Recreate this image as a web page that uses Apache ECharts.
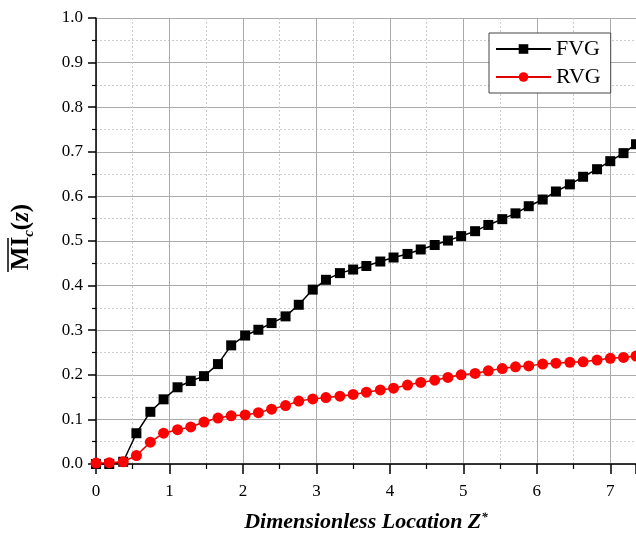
<!DOCTYPE html>
<html>
<head>
<meta charset="utf-8">
<script src="https://cdn.jsdelivr.net/npm/echarts@6/dist/echarts.min.js"></script>
<style>html,body{margin:0;padding:0;background:#fff;}#c{width:636px;height:535px;}</style>
</head>
<body>
<div id="c"></div>
<script>
// Dimensionless location Z* of each sample
var zPos = [0.00,0.18,0.37,0.55,0.74,0.92,1.11,1.29,1.47,1.66,1.84,2.03,2.21,2.39,2.58,2.76,2.95,3.13,3.32,3.50,3.68,3.87,4.05,4.24,4.42,4.61,4.79,4.97,5.16,5.34,5.53,5.71,5.89,6.08,6.26,6.45,6.63,6.82,7.00,7.18,7.35];
var fvg = [0.000,0.000,0.005,0.069,0.117,0.145,0.172,0.186,0.197,0.224,0.266,0.288,0.301,0.316,0.331,0.357,0.391,0.413,0.428,0.436,0.444,0.454,0.463,0.471,0.481,0.491,0.501,0.511,0.522,0.536,0.549,0.562,0.578,0.593,0.611,0.627,0.644,0.661,0.679,0.697,0.717];
var rvg = [0.002,0.003,0.005,0.019,0.049,0.069,0.077,0.083,0.094,0.103,0.108,0.110,0.115,0.123,0.131,0.141,0.146,0.149,0.152,0.156,0.161,0.166,0.170,0.177,0.183,0.188,0.194,0.200,0.203,0.209,0.214,0.218,0.220,0.224,0.226,0.228,0.229,0.233,0.237,0.239,0.242];
var seriesNames = ['FVG','RVG'];
var xTicks = [0,1,2,3,4,5,6,7];

function pairs(xs, ys){ return xs.map(function(x,i){ return [x, ys[i]]; }); }

var serif = '"Liberation Serif","DejaVu Serif",serif';
var chart = echarts.init(document.getElementById('c'), null, {renderer:'canvas'});
chart.setOption({
  animation:false,
  backgroundColor:'#fff',
  grid:{left:96, top:18, right:0, bottom:71, containLabel:false, outerBoundsMode:'none'},
  legend:{
    orient:'vertical', left:489, top:33,
    padding:[5,10,5,6], itemGap:6, itemWidth:55, itemHeight:12,
    borderColor:'#444', borderWidth:1, backgroundColor:'#fff',
    textStyle:{fontFamily:serif, fontSize:22, color:'#000'},
    data:seriesNames
  },
  xAxis:[{
    type:'value', min:0, max:7.35, interval:1,
    axisLine:{show:true, onZero:false, lineStyle:{color:'#000', width:1.5}},
    axisTick:{show:true, inside:false, length:10, lineStyle:{color:'#000', width:1.5}},
    minorTick:{show:true, splitNumber:2, length:5, lineStyle:{color:'#000', width:1.2}},
    axisLabel:{margin:19, fontFamily:serif, fontSize:17, color:'#000',
      formatter:function(v){ return xTicks.indexOf(v)>=0 ? String(v) : ''; }},
    splitLine:{show:true, lineStyle:{color:'#aaa', width:1}},
    minorSplitLine:{show:true, lineStyle:{color:'#ccc', width:1, type:[2,2]}},
    name:'{t|Dimensionless Location Z}{s|*}',
    nameLocation:'middle', nameGap:47,
    nameTextStyle:{rich:{
      t:{fontFamily:serif, fontSize:22, fontWeight:'bold', fontStyle:'italic', color:'#000'},
      s:{fontFamily:serif, fontSize:13, fontWeight:'bold', fontStyle:'italic', color:'#000', padding:[0,0,10,0]}
    }}
  },{
    type:'value', position:'top', min:0, max:7.35,
    axisLine:{show:true, lineStyle:{color:'#333', width:1.5}},
    axisTick:{show:false}, axisLabel:{show:false}, splitLine:{show:false}
  }],
  yAxis:{
    type:'value', min:0, max:1, interval:0.1,
    axisLine:{show:true, lineStyle:{color:'#000', width:1.5}},
    axisTick:{show:true, inside:false, length:8, lineStyle:{color:'#000', width:1.5}},
    minorTick:{show:true, splitNumber:2, length:4, lineStyle:{color:'#000', width:1.2}},
    axisLabel:{margin:13, fontFamily:serif, fontSize:17, color:'#000',
      formatter:function(v){ return v.toFixed(1); }},
    splitLine:{show:true, lineStyle:{color:'#aaa', width:1}},
    minorSplitLine:{show:true, lineStyle:{color:'#ccc', width:1, type:[2,2]}}
  },
  graphic:[{
    type:'group', x:22, y:237, rotation:Math.PI/2,
    children:[{
      type:'text', x:0, y:0,
      style:{
        text:'{b|MI}{c|c}{n|(}{i|z}{n|)}',
        align:'center', verticalAlign:'middle',
        rich:{
          b:{fontFamily:serif, fontSize:25, fontWeight:'bold', fill:'#000'},
          c:{fontFamily:serif, fontSize:15, fontWeight:'bold', fontStyle:'italic', fill:'#000', padding:[14,0,0,0]},
          n:{fontFamily:serif, fontSize:25, fontWeight:'bold', fill:'#000'},
          i:{fontFamily:serif, fontSize:25, fontWeight:'bold', fontStyle:'italic', fill:'#000'}
        }
      }
    },{
      type:'line', shape:{x1:-35, y1:-14, x2:-1, y2:-14},
      style:{stroke:'#000', lineWidth:1.5}
    }]
  }],
  series:[{
    name:seriesNames[0], type:'line', data:pairs(zPos,fvg),
    symbol:'rect', symbolSize:10,
    lineStyle:{color:'#000', width:1.5},
    itemStyle:{color:'#000'}, z:3
  },{
    name:seriesNames[1], type:'line', data:pairs(zPos,rvg),
    symbol:'circle', symbolSize:11,
    lineStyle:{color:'#e00000', width:1.5},
    itemStyle:{color:'#ff0000'}, z:4
  }]
});
</script>
</body>
</html>
